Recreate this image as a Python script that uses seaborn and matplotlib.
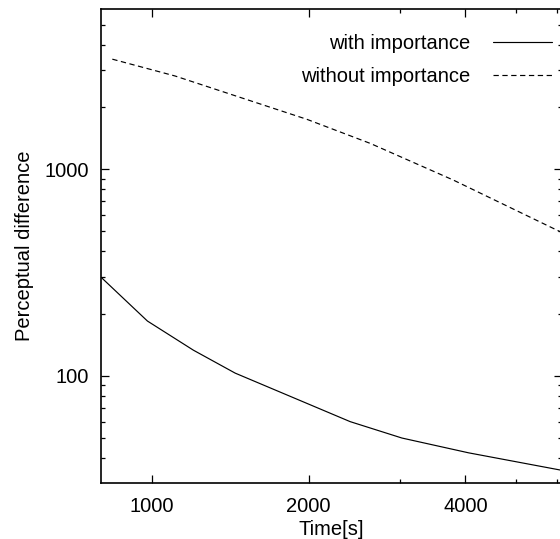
import matplotlib
matplotlib.use("Agg")
import matplotlib.pyplot as plt
import matplotlib.ticker as mticker
import seaborn as sns
import pandas as pd

# data
time_with = [800, 981, 1202, 1446, 2404, 3021, 4057, 6087]
diff_with = [299, 184, 133, 103, 60, 50, 42.4, 35]
time_without = [840, 1108, 1985, 2626, 3790, 6087]
diff_without = [3400, 2820, 1740, 1331, 885, 497]
label_with = "with importance"
label_without = "without importance"
x_ticks = [1000, 2000, 4000]
x_minor = [3000, 5000, 6000]

df = pd.DataFrame({
    "time": time_with + time_without,
    "diff": diff_with + diff_without,
    "series": [label_with] * len(time_with) + [label_without] * len(time_without),
})

sns.set_theme(style="ticks")
plt.rcParams["font.family"] = ["Liberation Sans", "DejaVu Sans"]
plt.rcParams["text.color"] = "black"
plt.rcParams["axes.labelcolor"] = "black"
plt.rcParams["xtick.color"] = "black"
plt.rcParams["ytick.color"] = "black"

FS = 14.5
W, H = 560, 539
fig = plt.figure(figsize=(W / 100, H / 100), dpi=100)
L, R, T, B = 101, 562, 9.3, 483
ax = fig.add_axes([L / W, (H - B) / H, (R - L) / W, (B - T) / H])

sns.lineplot(data=df, x="time", y="diff", style="series", color="black",
             dashes={label_with: "", label_without: (4.5, 3)},
             linewidth=0.85, sort=False, estimator=None, ax=ax)

ax.set_xscale("log")
ax.set_yscale("log")
ax.set_xlim(799, 6130)
ax.set_ylim(30.3, 5925)

ax.xaxis.set_major_locator(mticker.FixedLocator(x_ticks))
ax.xaxis.set_minor_locator(mticker.FixedLocator(x_minor))
ax.xaxis.set_major_formatter(mticker.FixedFormatter([str(t) for t in x_ticks]))
ax.xaxis.set_minor_formatter(mticker.NullFormatter())
ax.yaxis.set_major_locator(mticker.LogLocator(base=10))
ax.yaxis.set_minor_locator(mticker.LogLocator(base=10, subs=range(2, 10)))
ax.yaxis.set_major_formatter(mticker.FuncFormatter(lambda v, p: f"{int(round(v))}"))
ax.yaxis.set_minor_formatter(mticker.NullFormatter())

ax.tick_params(which="both", direction="in", top=True, right=True,
               colors="black", labelcolor="black", labelsize=FS, width=0.9)
ax.tick_params(which="major", length=6)
ax.tick_params(axis="x", which="major", pad=10)
ax.tick_params(axis="y", which="major", pad=9)
ax.tick_params(which="minor", length=3)
for s in ax.spines.values():
    s.set_visible(True)
    s.set_linewidth(1.2)
    s.set_color("black")

ax.set_xlabel("Time[s]", fontsize=FS, labelpad=3, color="black")
ax.set_ylabel("Perceptual difference", fontsize=FS, labelpad=7, color="black")

leg = ax.legend(frameon=False, markerfirst=False, fontsize=FS,
                loc="upper right", bbox_to_anchor=(552 / W, (H - 34) / H),
                bbox_transform=fig.transFigure, borderaxespad=0, borderpad=0,
                handlelength=2.95, handletextpad=1.1, labelspacing=0.72)
for t in leg.get_texts():
    t.set_color("black")

fig.savefig("out.png", dpi=100)
